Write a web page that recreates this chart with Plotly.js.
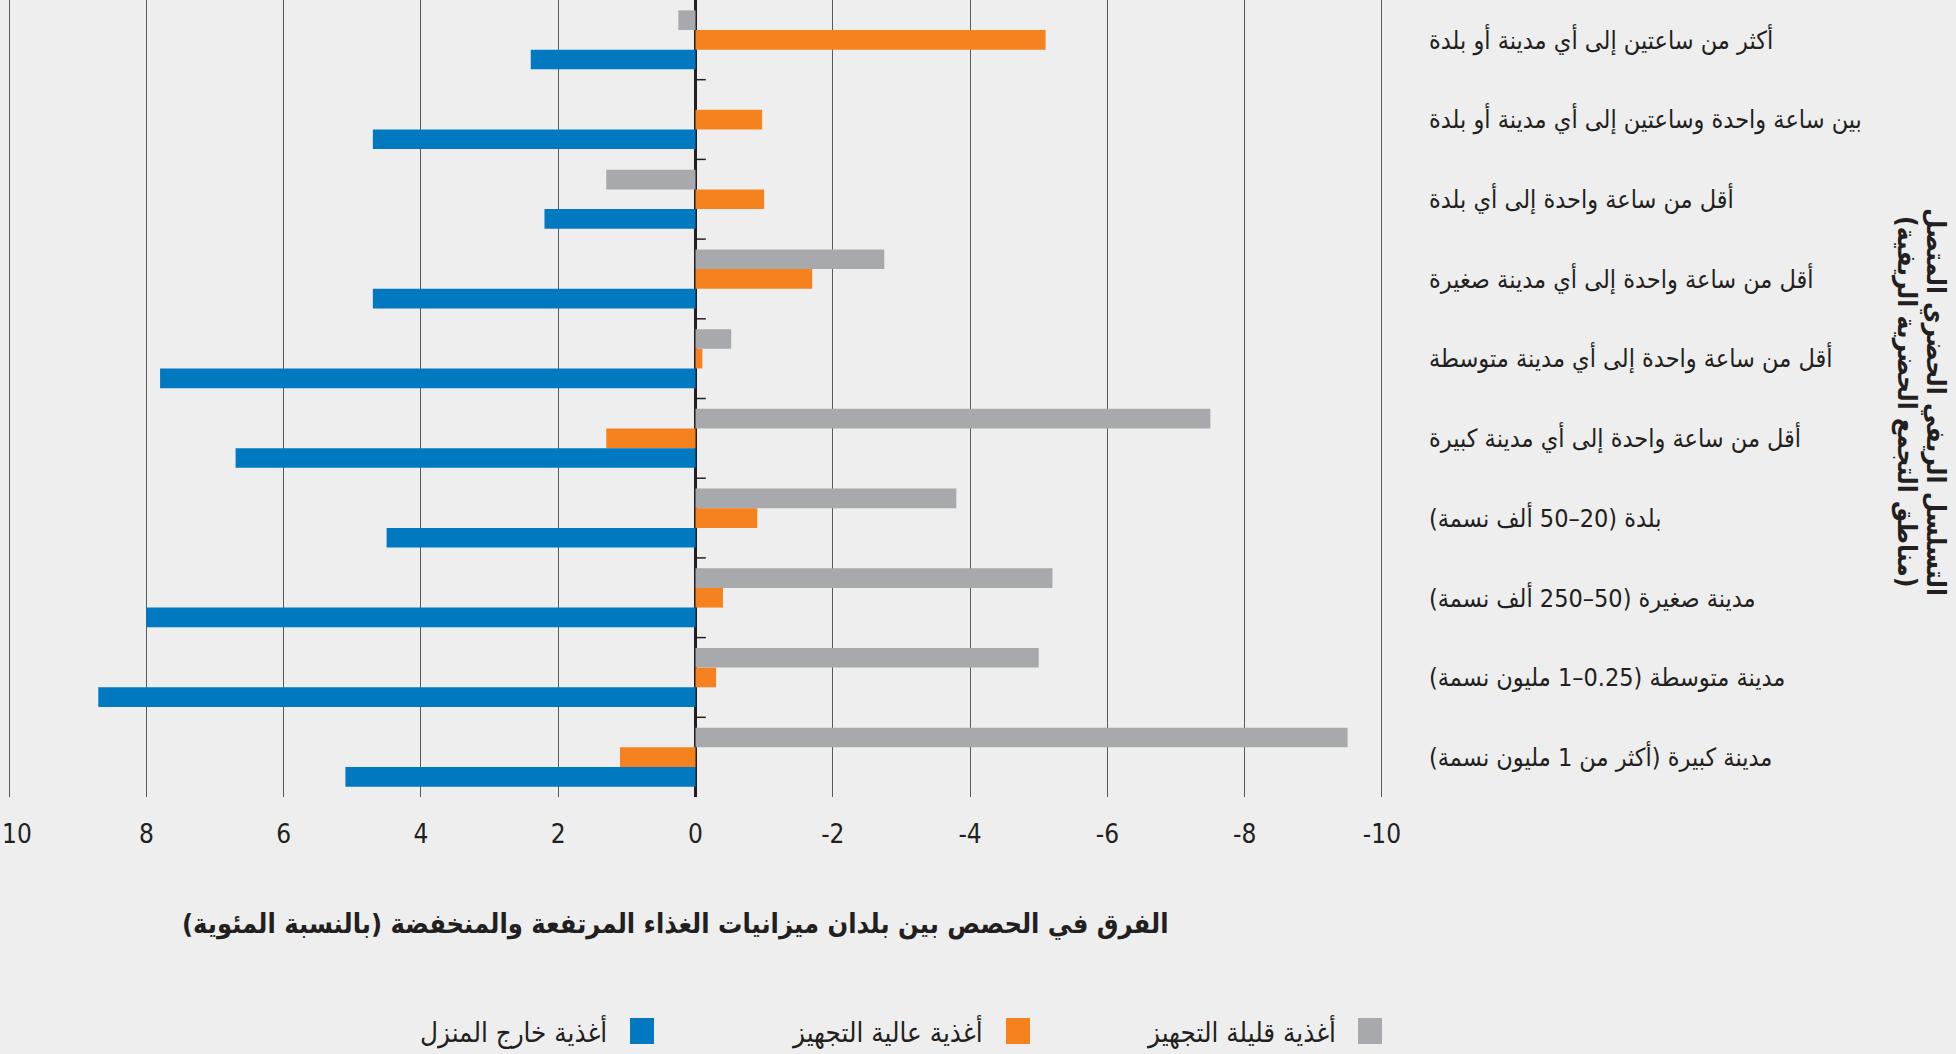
<!DOCTYPE html>
<html>
<head>
<meta charset="utf-8">
<script src="https://cdn.plot.ly/plotly-3.0.1.min.js"></script>
<style>
html,body{margin:0;padding:0;background:#eeeeee;}
#chart{width:1956px;height:1054px;}
</style>
</head>
<body>
<div id="chart"></div>
<script>
var RLM = '\u200F';
var categories = [
  'أكثر من ساعتين إلى أي مدينة أو بلدة',
  'بين ساعة واحدة وساعتين إلى أي مدينة أو بلدة',
  'أقل من ساعة واحدة إلى أي بلدة',
  'أقل من ساعة واحدة إلى أي مدينة صغيرة',
  'أقل من ساعة واحدة إلى أي مدينة متوسطة',
  'أقل من ساعة واحدة إلى أي مدينة كبيرة',
  'بلدة (20–50 ألف نسمة)',
  'مدينة صغيرة (50–250 ألف نسمة)',
  'مدينة متوسطة (0.25–1 مليون نسمة)',
  'مدينة كبيرة (أكثر من 1 مليون نسمة)'
];
var seriesNames = ['أغذية قليلة التجهيز', 'أغذية عالية التجهيز', 'أغذية خارج المنزل'];
var lowProcessed = [0.25, 0, 1.3, -2.75, -0.52, -7.5, -3.8, -5.2, -5.0, -9.5];
var highlyProcessed = [-5.1, -0.97, -1.0, -1.7, -0.1, 1.3, -0.9, -0.4, -0.3, 1.1];
var awayFromHome = [2.4, 4.7, 2.2, 4.7, 7.8, 6.7, 4.5, 8.0, 8.7, 5.1];
var xTickVals = [10, 8, 6, 4, 2, 0, -2, -4, -6, -8, -10];
var xTickText = ['', '8', '6', '4', '2', '0', '-2', '-4', '-6', '-8', '-10'];
var xEdgeTickText = '10';
var xTitle = 'الفرق في الحصص بين بلدان ميزانيات الغذاء المرتفعة والمنخفضة (بالنسبة المئوية)';
var yTitleLines = ['التسلسل الريفي الحضري المتصل', '(مناطق التجمع الحضرية الريفية)'];

var colors = ['#a7a9ac', '#f5821f', '#0079c1'];
var seriesValues = [lowProcessed, highlyProcessed, awayFromHome];

function rtl(s){ return RLM + s + RLM; }
var catLabels = categories.map(rtl);

var arabicFont = '"DejaVu Sans Condensed", "DejaVu Sans", sans-serif';
var tickFont = '"Liberation Sans Narrow", "DejaVu Sans Condensed", sans-serif';
var textColor = '#231f20';

var traces = seriesValues.map(function(vals, i){
  return {
    type: 'bar', orientation: 'h',
    x: vals, y: catLabels, name: seriesNames[i],
    marker: {color: colors[i], line: {width: 0}},
    showlegend: false, hoverinfo: 'skip'
  };
});

// plot geometry (px)
var W = 1956, H = 1054, mL = 7, mR = 572, mT = 0, mB = 257;
var pw = W - mL - mR, ph = H - mT - mB;
function px2x(p){ return (p - mL) / pw; }
function py2y(p){ return (H - mB - p) / ph; }

var shapes = [];
for (var i = 0; i < categories.length - 1; i++) {
  shapes.push({type: 'line', xref: 'x', yref: 'y', x0: 0, x1: -0.15, y0: i + 0.5, y1: i + 0.5,
    line: {color: textColor, width: 1.5}});
}
var annotations = [];
// legend (custom, RTL: swatch right of text)
var legendSwatchX = [1358, 1006, 630];
var legendTextRight = [1338, 985, 609];
for (var k = 0; k < seriesNames.length; k++) {
  shapes.push({type: 'rect', xref: 'paper', yref: 'paper',
    x0: px2x(legendSwatchX[k]), x1: px2x(legendSwatchX[k] + 24),
    y0: py2y(1018), y1: py2y(1044), fillcolor: colors[k], line: {width: 0}});
  annotations.push({xref: 'paper', yref: 'paper', x: px2x(legendTextRight[k]), y: py2y(1031),
    xanchor: 'right', yanchor: 'middle', showarrow: false, text: rtl(seriesNames[k]),
    font: {family: arabicFont, size: 27.5, color: textColor}});
}
// edge tick label "10" kept inside the page
annotations.push({xref: 'paper', yref: 'paper', x: 0, y: py2y(834), xanchor: 'left', yanchor: 'middle',
  xshift: -mL, showarrow: false, text: xEdgeTickText, font: {family: tickFont, size: 26, color: textColor}});
annotations.push({xref: 'paper', yref: 'paper', x: px2x(675), y: py2y(924), xanchor: 'center', yanchor: 'middle',
  showarrow: false, text: '<b>' + rtl(xTitle) + '</b>', font: {family: arabicFont, size: 27, color: textColor}});
var yTitleX = [1935, 1906];
for (var m = 0; m < yTitleLines.length; m++) {
  annotations.push({xref: 'paper', yref: 'paper', x: px2x(yTitleX[m]), y: py2y(402), xanchor: 'center', yanchor: 'middle',
    showarrow: false, textangle: 90, text: '<b>' + rtl(yTitleLines[m]) + '</b>',
    font: {family: arabicFont, size: 26, color: textColor}});
}

var layout = {
  width: W, height: H,
  paper_bgcolor: '#eeeeee', plot_bgcolor: '#eeeeee',
  margin: {l: mL, r: mR, t: mT, b: mB, pad: 0},
  barmode: 'group', bargap: 0.26, bargroupgap: 0,
  showlegend: false,
  xaxis: {
    range: [10.03, -10.03], autorange: false,
    tickvals: xTickVals, ticktext: xTickText,
    showgrid: true, gridcolor: '#5a5a5a', gridwidth: 1,
    zeroline: true, zerolinecolor: textColor, zerolinewidth: 3,
    showline: false, ticks: '', ticklabelstandoff: 19,
    tickfont: {family: tickFont, size: 26, color: textColor},
    fixedrange: true
  },
  yaxis: {
    type: 'category', autorange: 'reversed', side: 'right',
    showgrid: false, zeroline: false, showline: false, ticks: '',
    ticklabelstandoff: 44,
    tickfont: {family: arabicFont, size: 25, color: textColor},
    fixedrange: true
  },
  shapes: shapes,
  annotations: annotations,
  hovermode: false
};

Plotly.newPlot('chart', traces, layout, {staticPlot: true, displayModeBar: false});
</script>
</body>
</html>
